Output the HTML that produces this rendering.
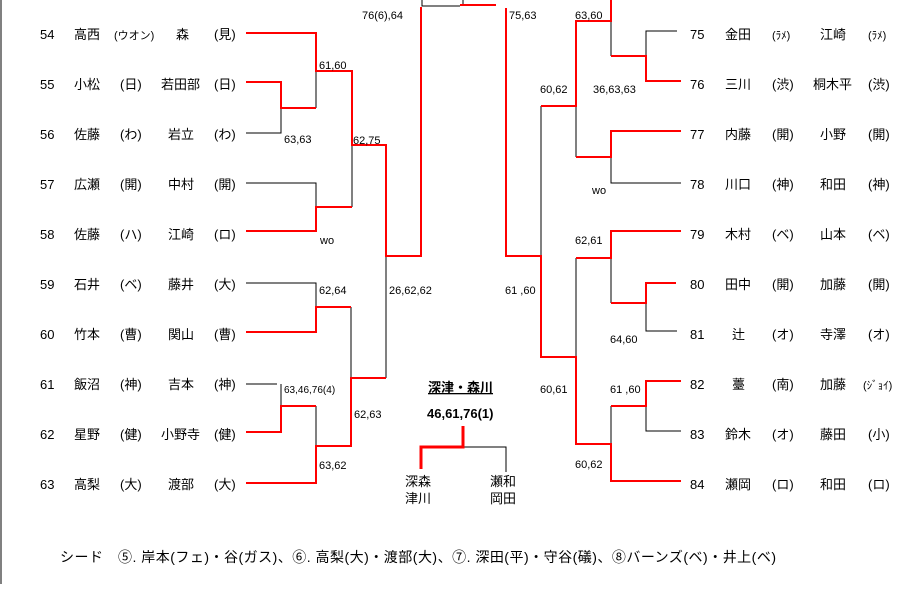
<!DOCTYPE html>
<html><head><meta charset="utf-8"><style>
body{margin:0;background:#fff;}
svg text{font-family:"Liberation Sans","Noto Sans CJK JP",sans-serif;font-size:13px;fill:#000;}
.s{font-size:11px;}
.t{font-size:10px;}
path,line{shape-rendering:crispEdges;}
</style></head><body>
<svg width="921" height="584" xmlns="http://www.w3.org/2000/svg">
<line x1="1" y1="0" x2="1" y2="584" stroke="#000" stroke-width="1"/>
<g fill="none" stroke="#000" stroke-width="1">
<path d="M246 133H281V108"/><path d="M316 71V108"/><path d="M246 183H316V207"/><path d="M352 145V207"/>
<path d="M246 283H316V307"/><path d="M351 307V378"/><path d="M386 256V378"/>
<path d="M246 384H277"/><path d="M281 384V406"/><path d="M316 406V446"/>
<path d="M422 0V6H460"/><path d="M463 0V5"/>
<path d="M463 447H506V472"/>
<path d="M677 31H646V56"/><path d="M611 21V56"/><path d="M576 106V157"/><path d="M681 183H611V157"/>
<path d="M541 106V256"/><path d="M576 258V357"/><path d="M611 258V303"/><path d="M677 331H646V303"/>
<path d="M611 406V444"/><path d="M681 431H646V406"/>
</g>
<g fill="none" stroke="#f00" stroke-width="2">
<path d="M246 33H316V71H352V145H386V256H421V7"/>
<path d="M246 82H281V108H316"/>
<path d="M246 231H316V207H352"/>
<path d="M246 332H316V307H351"/>
<path d="M246 432H281V406H316"/>
<path d="M246 483H316V446H351V378H386"/>
<path d="M460 5H496"/><path d="M506 8V256H541V357H576V444H611V481H681"/>
<path d="M611 0V21H576V106H541"/>
<path d="M681 81H646V56H611"/>
<path d="M681 131H611V157H576"/>
<path d="M681 231H611V258H576"/>
<path d="M676 283H646V303H611"/>
<path d="M681 381H646V406H611"/>
</g>
<path d="M463 426V447H421V469" fill="none" stroke="#f00" stroke-width="3"/>
<g>
<text x="40" y="39">54</text><text x="74" y="39">高西</text><text x="114" y="39" class="s">(ウオン)</text><text x="176" y="39">森</text><text x="214" y="39">(見)</text>
<text x="40" y="89">55</text><text x="74" y="89">小松</text><text x="120" y="89">(日)</text><text x="161" y="89">若田部</text><text x="214" y="89">(日)</text>
<text x="40" y="139">56</text><text x="74" y="139">佐藤</text><text x="120" y="139">(わ)</text><text x="168" y="139">岩立</text><text x="214" y="139">(わ)</text>
<text x="40" y="189">57</text><text x="74" y="189">広瀬</text><text x="120" y="189">(開)</text><text x="168" y="189">中村</text><text x="214" y="189">(開)</text>
<text x="40" y="239">58</text><text x="74" y="239">佐藤</text><text x="120" y="239">(ハ)</text><text x="168" y="239">江崎</text><text x="214" y="239">(ロ)</text>
<text x="40" y="289">59</text><text x="74" y="289">石井</text><text x="120" y="289">(ベ)</text><text x="168" y="289">藤井</text><text x="214" y="289">(大)</text>
<text x="40" y="339">60</text><text x="74" y="339">竹本</text><text x="120" y="339">(曹)</text><text x="168" y="339">関山</text><text x="214" y="339">(曹)</text>
<text x="40" y="389">61</text><text x="74" y="389">飯沼</text><text x="120" y="389">(神)</text><text x="168" y="389">吉本</text><text x="214" y="389">(神)</text>
<text x="40" y="439">62</text><text x="74" y="439">星野</text><text x="120" y="439">(健)</text><text x="161" y="439">小野寺</text><text x="214" y="439">(健)</text>
<text x="40" y="489">63</text><text x="74" y="489">高梨</text><text x="120" y="489">(大)</text><text x="168" y="489">渡部</text><text x="214" y="489">(大)</text>

<text x="690" y="39">75</text><text x="725" y="39">金田</text><text x="772" y="39" class="s">(ﾗﾒ)</text><text x="820" y="39">江崎</text><text x="868" y="39" class="s">(ﾗﾒ)</text>
<text x="690" y="89">76</text><text x="725" y="89">三川</text><text x="772" y="89">(渋)</text><text x="813" y="89">桐木平</text><text x="868" y="89">(渋)</text>
<text x="690" y="139">77</text><text x="725" y="139">内藤</text><text x="772" y="139">(開)</text><text x="820" y="139">小野</text><text x="868" y="139">(開)</text>
<text x="690" y="189">78</text><text x="725" y="189">川口</text><text x="772" y="189">(神)</text><text x="820" y="189">和田</text><text x="868" y="189">(神)</text>
<text x="690" y="239">79</text><text x="725" y="239">木村</text><text x="772" y="239">(ベ)</text><text x="820" y="239">山本</text><text x="868" y="239">(ベ)</text>
<text x="690" y="289">80</text><text x="725" y="289">田中</text><text x="772" y="289">(開)</text><text x="820" y="289">加藤</text><text x="868" y="289">(開)</text>
<text x="690" y="339">81</text><text x="732" y="339">辻</text><text x="772" y="339">(オ)</text><text x="820" y="339">寺澤</text><text x="868" y="339">(オ)</text>
<text x="690" y="389">82</text><text x="732" y="389">薹</text><text x="772" y="389">(南)</text><text x="820" y="389">加藤</text><text x="863" y="389" class="s">(ｼﾞｮｲ)</text>
<text x="690" y="439">83</text><text x="725" y="439">鈴木</text><text x="772" y="439">(オ)</text><text x="820" y="439">藤田</text><text x="868" y="439">(小)</text>
<text x="690" y="489">84</text><text x="725" y="489">瀬岡</text><text x="772" y="489">(ロ)</text><text x="820" y="489">和田</text><text x="868" y="489">(ロ)</text>
</g>
<g class="s">
<text x="362" y="19" class="s">76(6),64</text><text x="509" y="19" class="s">75,63</text>
<text x="319" y="69" class="s">61,60</text><text x="284" y="143" class="s">63,63</text>
<text x="353" y="144" class="s">62,75</text><text x="320" y="244" class="s">wo</text>
<text x="319" y="294" class="s">62,64</text><text x="389" y="294" class="s">26,62,62</text>
<text x="284" y="393" class="t">63,46,76(4)</text><text x="354" y="418" class="s">62,63</text><text x="319" y="469" class="s">63,62</text>
<text x="575" y="19" class="s">63,60</text><text x="540" y="93" class="s">60,62</text><text x="593" y="93" class="s">36,63,63</text>
<text x="592" y="194" class="s">wo</text><text x="575" y="244" class="s">62,61</text><text x="505" y="294" class="s">61 ,60</text>
<text x="610" y="343" class="s">64,60</text><text x="540" y="393" class="s">60,61</text><text x="610" y="393" class="s">61 ,60</text>
<text x="575" y="468" class="s">60,62</text>
</g>
<text x="428" y="392" style="font-weight:bold;text-decoration:underline">深津・森川</text>
<text x="427" y="418" style="font-weight:bold">46,61,76(1)</text>
<text x="405" y="486">深森</text><text x="405" y="503">津川</text>
<text x="490" y="486">瀬和</text><text x="490" y="503">岡田</text>
<text x="60" y="562" style="font-size:14px" textLength="716" lengthAdjust="spacing">シード　⑤. 岸本(フェ)・谷(ガス)、⑥. 高梨(大)・渡部(大)、⑦. 深田(平)・守谷(礒)、⑧バーンズ(ベ)・井上(ベ)</text>
</svg>
</body></html>
